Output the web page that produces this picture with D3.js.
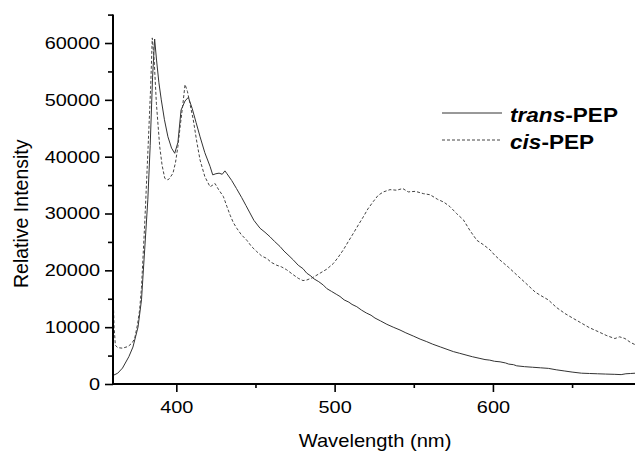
<!DOCTYPE html>
<html><head><meta charset="utf-8">
<script src="https://cdn.jsdelivr.net/npm/d3@7"></script>
<style>
html,body{margin:0;padding:0;background:#fff;}
svg{display:block;font-family:Arial,"Liberation Sans",sans-serif;}
</style></head>
<body><svg id="c" width="635" height="451"></svg>
<script>
// ---- data ----
const transWavelength = [360,363,366,370,372.6,375.8,378,380,382,383.5,385,386.3,387.5,389,390.5,392.5,394.7,397,399,401,403,405.5,407.6,410,412.5,415,418,421.3,423,425,427,429,430.7,432,435,438,441.3,444,446.5,449,452.9,456,459.2,462,465.5,468,471.8,474,477,480,482.4,485,487,490,492.9,495,498,501,503.4,506,509,511,514,517,520,523,525.5,529,533,537,541.3,545,550,554,558.2,562,567,571,575,579,583,587,591.8,595,598,601,604.5,608,610,613,615,620,625,630,635,640,645,650,656,661,666,671,677,681,684,687,690];
const transIntensity = [1500,1900,2800,4800,6500,10000,14800,23600,32400,42000,54000,60700,57000,53000,50000,46500,43500,41500,40600,42500,48200,49800,50450,48500,46000,43500,40700,38300,36800,37000,37100,36900,37500,37000,35800,34400,32800,31400,30100,28800,27400,26700,25900,25100,24200,23400,22400,21800,20900,20300,19500,19000,18500,18000,17400,16800,16300,15800,15400,14800,14400,14000,13600,13000,12500,12100,11600,11100,10500,10000,9500,9000,8400,7900,7450,7000,6500,6100,5700,5400,5100,4800,4500,4300,4200,4000,3900,3700,3500,3400,3200,3050,2950,2850,2750,2500,2300,2100,1900,1850,1800,1750,1700,1650,1800,1850,1900];
const cisWavelength = [360,360.7,361.5,363,366,369.5,372,373.7,375.5,376.8,378,380,382,383.8,384.8,386,387.4,389.5,391,392.7,394.7,396,397.9,399.5,401,402.5,404.2,405.5,407,408.5,410.7,413,415,418,421.3,423,424.4,426.5,429.7,432,434,436,438.2,441,444.5,447.5,450.8,454,457.1,460,463.4,466.5,469.7,473,477,480,482.4,486,490.8,495,499.2,502,505.5,508.5,511.8,515,518.1,521,524.4,527.5,530.8,535,539.2,543,546.5,551,556,560.3,565,569,572.9,577,581.3,585.5,589.8,594,598.2,601,604.5,610,615,620.5,626.6,630,635,640,645.5,651,656,661,666.6,672,677,680,683.4,687,690];
const cisIntensity = [16500,10000,6800,6400,6300,6600,7200,8000,10500,13000,17000,28000,40600,52300,60900,57000,49400,41800,38500,36200,35900,36300,37100,39000,41800,45500,49400,52700,51500,49500,46500,42500,39400,36500,34700,35000,35300,34300,33000,31200,29700,28400,27400,26300,25300,24200,23300,22500,22100,21400,20900,20600,20100,19400,18600,18200,18300,18700,19500,20200,21200,22200,23600,25000,26500,28000,29400,30800,32100,33200,33800,34200,34100,34400,33800,33900,33500,33300,32500,32000,31200,30000,28900,27000,25300,24500,23600,22700,21800,20500,19200,17800,16200,15600,14800,13500,12400,11500,10700,9900,9200,8500,8000,8300,8000,7300,6900];
const xMajorTicks = [400,500,600];
const xMinorTicks = [450,550,650];
const yMajorTicks = [0,10000,20000,30000,40000,50000,60000];
const yMinorTicks = [5000,15000,25000,35000,45000,55000,65000];
const seriesNames = ["trans","cis"];

// ---- layout ----
const L = 113, R = 635.4, T = 14.6, B = 384;
const svg = d3.select("#c");
const x = d3.scaleLinear().domain([360,690]).range([L,R]);
const y = d3.scaleLinear().domain([0,65000]).range([B,T]);

svg.append("defs").append("clipPath").attr("id","clip")
  .append("rect").attr("x",L).attr("y",0).attr("width",R-L).attr("height",B);

const line = d3.line().x(d=>x(d[0])).y(d=>y(d[1]));
const transData = transWavelength.map((w,i)=>[w,transIntensity[i]]);
const cisData = cisWavelength.map((w,i)=>[w,cisIntensity[i]]);

const g = svg.append("g").attr("clip-path","url(#clip)");
g.append("path").datum(transData).attr("d",line)
  .attr("fill","none").attr("stroke","#333").attr("stroke-width",1);
g.append("path").datum(cisData).attr("d",line)
  .attr("fill","none").attr("stroke","#444").attr("stroke-width",1)
  .attr("stroke-dasharray","3,2");

// axes
const yAx = svg.append("g").attr("transform",`translate(${L},0)`)
  .call(d3.axisLeft(y).tickValues(yMajorTicks).tickSize(8).tickPadding(5).tickFormat(d3.format("d")));
const yMin = svg.append("g").attr("transform",`translate(${L},0)`)
  .call(d3.axisLeft(y).tickValues(yMinorTicks).tickSize(5).tickFormat(""));
const xAx = svg.append("g").attr("transform",`translate(0,${B})`)
  .call(d3.axisBottom(x).tickValues(xMajorTicks).tickSize(8).tickPadding(9).tickFormat(d3.format("d")));
const xMin = svg.append("g").attr("transform",`translate(0,${B})`)
  .call(d3.axisBottom(x).tickValues(xMinorTicks).tickSize(4).tickFormat(""));

[yAx,yMin,xAx,xMin].forEach(a=>{
  a.select(".domain").remove();
  a.selectAll(".tick line").attr("stroke","#000").attr("stroke-width",1.6);
});
// axis lines
svg.append("line").attr("x1",L).attr("x2",L).attr("y1",T).attr("y2",B+1)
  .attr("stroke","#000").attr("stroke-width",2);
svg.append("line").attr("x1",L-1).attr("x2",R).attr("y1",B).attr("y2",B)
  .attr("stroke","#000").attr("stroke-width",2);

const sx = 1.17;
yAx.selectAll(".tick text").attr("font-size",17).attr("fill","#000")
  .attr("font-family","Arial, 'Liberation Sans', sans-serif")
  .attr("x",-13/sx).attr("transform",`scale(${sx},1)`);
xAx.selectAll(".tick text").attr("font-size",17).attr("fill","#000")
  .attr("font-family","Arial, 'Liberation Sans', sans-serif")
  .attr("transform",`scale(${sx},1)`);

// titles
svg.append("text").attr("transform",`translate(375,447) scale(1.12,1)`)
  .attr("text-anchor","middle").attr("font-size",18).attr("fill","#000")
  .text("Wavelength (nm)");
svg.append("text").attr("transform",`translate(28,288) rotate(-90)`)
  .attr("text-anchor","start").attr("font-size",19.5).attr("fill","#000")
  .text("Relative Intensity");

// legend
const leg = svg.append("g");
const legY = [113,140];
const legLabels = [["trans","-PEP"],["cis","-PEP"]];
seriesNames.forEach((s,i)=>{
  leg.append("line").attr("x1",442).attr("x2",502).attr("y1",legY[i]).attr("y2",legY[i])
    .attr("stroke", i===0?"#333":"#444").attr("stroke-width",1)
    .attr("stroke-dasharray", i===0?null:"3,2");
  const t = leg.append("text").attr("transform",`translate(510,${legY[i]+8.5}) scale(1.13,1)`)
    .attr("font-size",20).attr("font-weight","bold").attr("fill","#000");
  t.append("tspan").attr("font-style","italic").text(legLabels[i][0]);
  t.append("tspan").text(legLabels[i][1]);
});
</script></body></html>
